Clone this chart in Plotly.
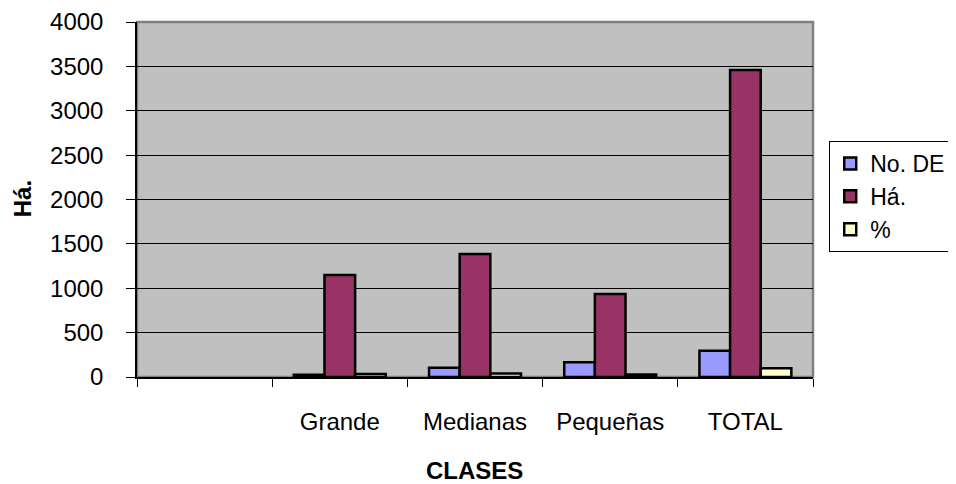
import plotly.graph_objects as go

categories = [" ", "Grande", "Medianas", "Pequeñas", "TOTAL"]
no_de = [None, 25, 105, 165, 295]
ha = [None, 1150, 1385, 935, 3460]
pct = [None, 33, 40, 27, 100]
y_ticks = [0, 500, 1000, 1500, 2000, 2500, 3000, 3500, 4000]

font = "Liberation Sans, Arial, sans-serif"

fig = go.Figure()
for name, vals, col in [("No. DE", no_de, "#9999FF"), ("Há.", ha, "#993366"), ("%", pct, "#FFFFCC")]:
    fig.add_trace(go.Bar(x=categories, y=vals, name=name,
                         marker=dict(color=col, line=dict(color="black", width=2.5))))

fig.update_layout(
    width=948, height=476,
    margin=dict(l=129, r=143, t=14, b=107, autoexpand=False),
    paper_bgcolor="white", plot_bgcolor="#C0C0C0",
    barmode="group", bargap=0.32, bargroupgap=0,
    font=dict(family=font, size=24, color="black"),
    showlegend=True,
    legend=dict(x=1.024, y=0.665, xanchor="left", yanchor="top",
                bgcolor="white", bordercolor="black", borderwidth=1,
                font=dict(size=23), itemwidth=30, tracegroupgap=0),
    xaxis=dict(type="category", categoryorder="array", categoryarray=categories,
               tickson="boundaries", ticks="outside", ticklen=8, tickcolor="black",
               showline=True, linecolor="black", linewidth=1.5,
               showgrid=False, tickfont=dict(size=24), automargin=False,
               ticklabelstandoff=22),
    yaxis=dict(range=[0, 4000], tickvals=y_ticks, ticks="outside", ticklen=9,
               tickcolor="black", showline=True, linecolor="black", linewidth=1.5,
               showgrid=True, gridcolor="black", gridwidth=1, zeroline=False,
               tickfont=dict(size=24), automargin=False, ticklabelstandoff=18),
    annotations=[
        dict(text="<b>Há.</b>", xref="paper", yref="paper", x=-0.170, y=0.501,
             textangle=-90, showarrow=False, font=dict(size=24),
             xanchor="center", yanchor="middle"),
        dict(text="<b>CLASES</b>", xref="paper", yref="paper", x=0.4993, y=-0.262,
             showarrow=False, font=dict(size=24), xanchor="center", yanchor="middle"),
    ],
)
fig.add_shape(type="rect", xref="x domain", yref="y domain", x0=0, x1=1, y0=0, y1=1,
              line=dict(color="#808080", width=2.5), layer="below")
fig.write_html("out.html")
